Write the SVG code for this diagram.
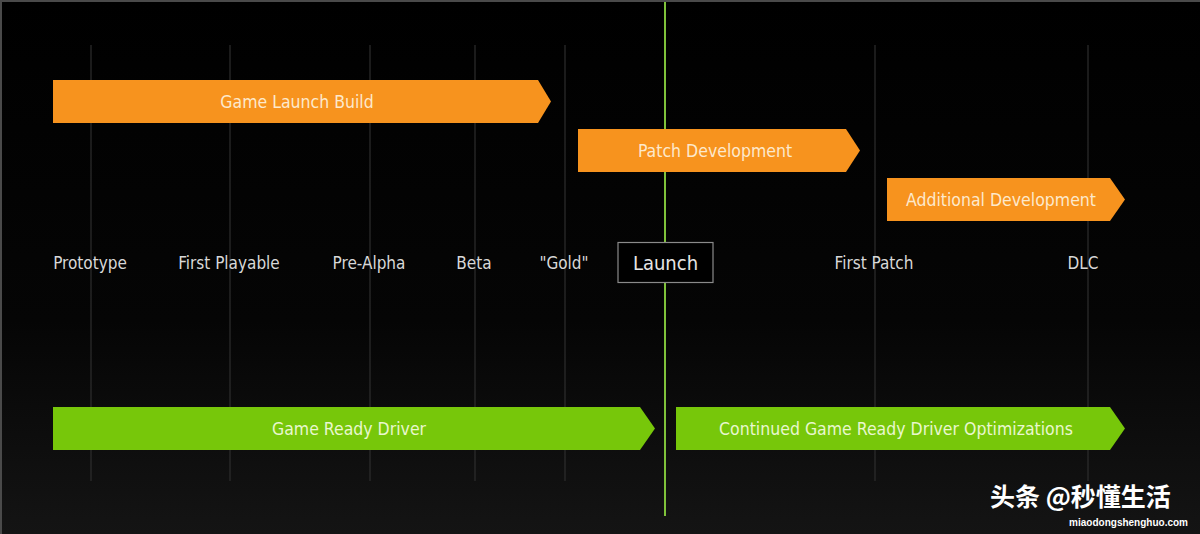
<svg xmlns="http://www.w3.org/2000/svg" width="1200" height="534" viewBox="0 0 1200 534">
<defs>
<linearGradient id="bg" x1="0" y1="0" x2="0" y2="1">
<stop offset="0" stop-color="#000"/>
<stop offset="0.6" stop-color="#050505"/>
<stop offset="1" stop-color="#141414"/>
</linearGradient>
<style>
.grid{stroke:#2e2e2e;stroke-width:1.2}
.or{fill:#f7931e}
.gr{fill:#77c70a}
.bt{font-family:"DejaVu Sans Condensed","Liberation Sans",sans-serif;font-size:17.5px;text-anchor:middle;dominant-baseline:central}
.ot{fill:#fde9cc}
.gt{fill:#e9f7cf}
.lbl{font-family:"DejaVu Sans Condensed","Liberation Sans",sans-serif;font-size:17px;fill:#d8d8d8;text-anchor:middle;dominant-baseline:central}
</style>
</defs>
<rect width="1200" height="534" fill="url(#bg)"/>
<path d="M0 1H1200M1 0V534" stroke="#4a4a4a" stroke-width="2"/>
<g id="gridlines">
<line class="grid" x1="91" y1="45" x2="91" y2="481"/>
<line class="grid" x1="230" y1="45" x2="230" y2="481"/>
<line class="grid" x1="370" y1="45" x2="370" y2="481"/>
<line class="grid" x1="475" y1="45" x2="475" y2="481"/>
<line class="grid" x1="565" y1="45" x2="565" y2="481"/>
<line class="grid" x1="875" y1="45" x2="875" y2="481"/>
<line class="grid" x1="1088" y1="45" x2="1088" y2="481"/>
</g>
<g id="connectors">
<line x1="665" y1="2" x2="665" y2="516" stroke="#7fc23a" stroke-width="2"/>
</g>
<g id="game-launch-build">
<polygon class="or" points="53,80 538,80 551,101.5 538,123 53,123"/>
<text class="bt ot" x="297" y="101.5">Game Launch Build</text>
</g>
<g id="patch-development">
<polygon class="or" points="578,129 846,129 860,150.5 846,172 578,172"/>
<text class="bt ot" x="715" y="150.5">Patch Development</text>
</g>
<g id="additional-development">
<polygon class="or" points="887,178 1110,178 1125,199.5 1110,221 887,221"/>
<text class="bt ot" x="1001" y="199.5">Additional Development</text>
</g>
<g id="milestones">
<text class="lbl" x="90" y="263">Prototype</text>
<text class="lbl" x="229" y="263">First Playable</text>
<text class="lbl" x="369" y="263">Pre-Alpha</text>
<text class="lbl" x="474" y="263">Beta</text>
<text class="lbl" x="564" y="263">"Gold"</text>
<text class="lbl" x="874" y="263">First Patch</text>
<text class="lbl" x="1083" y="263">DLC</text>
</g>
<g id="launch">
<rect x="618" y="242.5" width="95" height="40" fill="#000" stroke="#8a8a8a" stroke-width="1.2"/>
<text class="lbl" x="665.5" y="263" style="font-size:20px;fill:#e6e6e6">Launch</text>
</g>
<g id="game-ready-driver">
<polygon class="gr" points="53,407 640,407 655,428.5 640,450 53,450"/>
<text class="bt gt" x="349" y="428.5">Game Ready Driver</text>
</g>
<g id="continued-optimizations">
<polygon class="gr" points="676,407 1110,407 1125,428.5 1110,450 676,450"/>
<text class="bt gt" x="896" y="428.5">Continued Game Ready Driver Optimizations</text>
</g>
<g id="watermark">
<text x="990" y="506" style="font-family:'Noto Sans CJK SC',sans-serif;font-size:25px;font-weight:bold;fill:#fff">头条 @秒懂生活</text>
<text x="1188" y="526" style="font-family:'Liberation Sans',sans-serif;font-size:10px;font-weight:bold;fill:#fff;text-anchor:end">miaodongshenghuo.com</text>
</g>
</svg>
